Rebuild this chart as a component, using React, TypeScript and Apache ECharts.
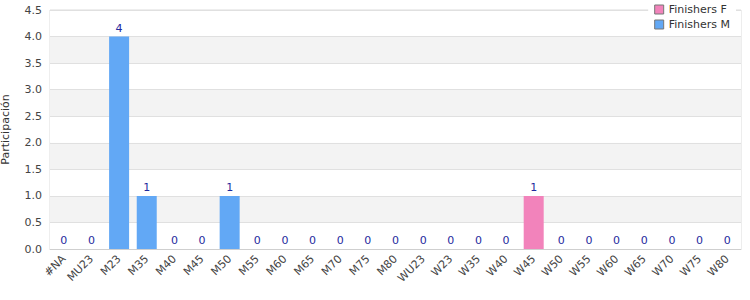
import React, { useEffect, useRef } from "react";
import * as echarts from "echarts";

const categories = ["#NA", "MU23", "M23", "M35", "M40", "M45", "M50", "M55", "M60", "M65", "M70", "M75", "M80", "WU23", "W23", "W35", "W40", "W45", "W50", "W55", "W60", "W65", "W70", "W75", "W80"];
const finishersM: (number | string)[] = [0, 0, 4, 1, 0, 0, 1, 0, 0, 0, 0, 0, 0, "-", "-", "-", "-", "-", "-", "-", "-", "-", "-", "-", "-"];
const finishersF: (number | string)[] = ["-", "-", "-", "-", "-", "-", "-", "-", "-", "-", "-", "-", "-", 0, 0, 0, 0, 1, 0, 0, 0, 0, 0, 0, 0];
const yTicks = { min: 0, max: 4.5, interval: 0.5 };

const FONT = "DejaVu Sans";

export default function App() {
  const ref = useRef<HTMLDivElement>(null);
  useEffect(() => {
    const chart = echarts.init(ref.current!, null, { renderer: "svg" });
    const label = {
      show: true,
      position: "top",
      distance: 3,
      color: "#1f2a9e",
      fontSize: 11,
      fontFamily: FONT,
    };
    chart.setOption({
      animation: false,
      textStyle: { fontFamily: FONT },
      grid: {
        left: 50, right: 9, top: 10, bottom: 51,
        containLabel: false,
        outerBoundsMode: "none",
        show: true, borderColor: "#dcdcdc", borderWidth: 1, backgroundColor: "transparent",
      },
      legend: {
        orient: "vertical",
        right: 14,
        top: 2,
        itemWidth: 9,
        itemHeight: 9,
        itemGap: 4,
        backgroundColor: "#fff",
        padding: [2, 6, 2, 6],
        textStyle: { fontSize: 11, color: "#333", fontFamily: FONT },
        data: [
          { name: "Finishers F", icon: "rect", itemStyle: { borderColor: "#777", borderWidth: 1 } },
          { name: "Finishers M", icon: "rect", itemStyle: { borderColor: "#777", borderWidth: 1 } },
        ],
      },
      xAxis: {
        type: "category",
        data: categories,
        axisLine: { show: true, lineStyle: { color: "#cfcfcf" } },
        axisTick: { show: false },
        axisLabel: { rotate: 45, fontSize: 11, color: "#444", fontFamily: FONT, interval: 0, margin: 8, hideOverlap: false },
      },
      yAxis: {
        type: "value",
        min: yTicks.min,
        max: yTicks.max,
        interval: yTicks.interval,
        name: "Participación",
        nameLocation: "middle",
        nameGap: 39,
        nameTextStyle: { fontSize: 11, color: "#333", fontFamily: FONT },
        axisLine: { show: false },
        axisTick: { show: false },
        axisLabel: { fontSize: 11, color: "#444", fontFamily: FONT, formatter: (v: number) => v.toFixed(1), margin: 8 },
        splitLine: { show: true, lineStyle: { color: "#e0e0e0" } },
        splitArea: { show: true, areaStyle: { color: ["#ffffff", "#f3f3f3"] } },
      },
      series: [
        {
          name: "Finishers F",
          type: "bar",
          data: finishersF,
          barWidth: 20,
          barGap: "-100%",
          itemStyle: { color: "#f283bb" },
          label,
        },
        {
          name: "Finishers M",
          type: "bar",
          data: finishersM,
          barWidth: 20,
          barGap: "-100%",
          itemStyle: { color: "#62a8f5" },
          label,
        },
      ],
    });
    return () => chart.dispose();
  }, []);
  return <div ref={ref} style={{ width: 750, height: 300, position: "absolute", left: 0, top: 0 }} />;
}
